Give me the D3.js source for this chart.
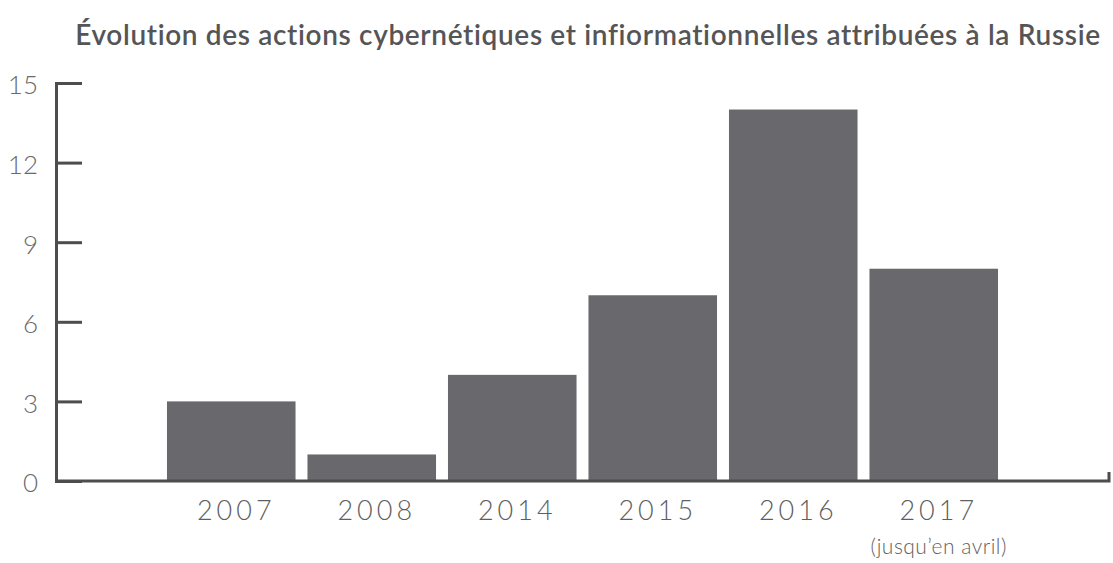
<!DOCTYPE html>
<html>
<head>
<meta charset="utf-8">
<script src="https://cdn.jsdelivr.net/npm/d3@7"></script>
<style>
  body { margin: 0; background: #fff; }
  svg { display: block; font-family: Lato, "Open Sans", sans-serif; }
</style>
</head>
<body>
<div id="vis"></div>
<script>
// data
var years = ['2007', '2008', '2014', '2015', '2016', '2017'];
var counts = [3, 1, 4, 7, 14, 8];
var subLabels = ['', '', '', '', '', '(jusqu\u2019en avril)'];
var yTicks = [0, 3, 6, 9, 12, 15];
var title = 'Évolution des actions cybernétiques et infiormationnelles attribuées à la Russie';

var width = 1113, height = 563;
var axisX = 56, baseY = 481, topY = 83, rightEnd = 1109;

var svg = d3.select('#vis').append('svg')
  .attr('width', width)
  .attr('height', height);

var y = d3.scaleLinear().domain([0, 15]).range([baseY, topY]);

var x = d3.scaleBand()
  .domain(years)
  .range([161, 1004])
  .paddingInner(0.085)
  .paddingOuter(0.0425);

// title
svg.append('text')
  .attr('x', 588)
  .attr('y', 45)
  .attr('text-anchor', 'middle')
  .attr('fill', '#555557')
  .attr('font-size', 28)
  .attr('font-weight', 600)
  .attr('letter-spacing', 0.65)
  .text(title);

// bars
svg.selectAll('.bar')
  .data(years)
  .enter().append('rect')
  .attr('class', 'bar')
  .attr('x', function (d) { return x(d); })
  .attr('width', x.bandwidth())
  .attr('y', function (d, i) { return y(counts[i]); })
  .attr('height', function (d, i) { return y(0) - y(counts[i]); })
  .attr('fill', '#69686c');

// y axis with ticks pointing inwards
var yAxis = d3.axisLeft(y)
  .tickValues(yTicks)
  .tickSize(-26)
  .tickSizeOuter(0)
  .tickPadding(18);

var gy = svg.append('g')
  .attr('transform', 'translate(' + axisX + ',0)')
  .call(yAxis);

gy.selectAll('path, line')
  .attr('stroke', '#4d4d4f')
  .attr('stroke-width', 3);
gy.select('.domain').attr('stroke-linecap', 'square');
gy.selectAll('text')
  .attr('fill', '#6a6a6a')
  .attr('font-size', 26)
  .attr('font-weight', 300)
  .attr('dy', '0.42em')
  .attr('font-family', 'Lato, sans-serif');

// baseline with small hook at the right end
svg.append('path')
  .attr('d', 'M' + axisX + ',' + baseY + 'H' + rightEnd + 'V' + (baseY - 9))
  .attr('fill', 'none')
  .attr('stroke', '#4d4d4f')
  .attr('stroke-width', 3);

// x labels
var lab = svg.selectAll('.xlab')
  .data(years)
  .enter().append('g')
  .attr('class', 'xlab')
  .attr('transform', function (d) { return 'translate(' + (x(d) + x.bandwidth() / 2 + 5) + ',0)'; });

lab.append('text')
  .attr('y', 520)
  .attr('text-anchor', 'middle')
  .attr('fill', '#5f5f5f')
  .attr('font-size', 27)
  .attr('font-weight', 300)
  .attr('letter-spacing', 4)
  .text(function (d) { return d; });

lab.append('text')
  .attr('y', 554)
  .attr('text-anchor', 'middle')
  .attr('fill', '#5f5f5f')
  .attr('font-size', 21)
  .attr('font-weight', 300)
  .attr('letter-spacing', 0.5)
  .text(function (d, i) { return subLabels[i]; });
</script>
</body>
</html>
